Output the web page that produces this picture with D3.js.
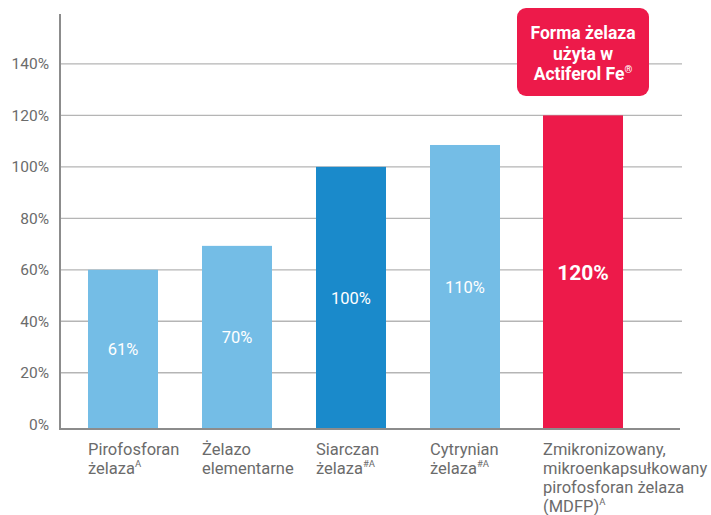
<!DOCTYPE html>
<html><head><meta charset="utf-8">
<script src="https://cdn.jsdelivr.net/npm/d3@7"></script>
<style>body{margin:0;background:#fff}svg{display:block;font-family:Roboto,"DejaVu Sans Condensed",sans-serif}</style>
</head><body><svg id="c" width="711" height="515"></svg>
<script>
const categories = [
  [["Pirofosforan"], ["żelaza", "A"]],
  [["Żelazo"], ["elementarne"]],
  [["Siarczan"], ["żelaza", "#A"]],
  [["Cytrynian"], ["żelaza", "#A"]],
  [["Zmikronizowany,"], ["mikroenkapsułkowany"], ["pirofosforan żelaza"], ["(MDFP)", "A"]]
];
const values = [60, 69.3, 100, 108.5, 120];
const valueLabels = ["61%", "70%", "100%", "110%", "120%"];
const colors = ["#74bde6", "#74bde6", "#1a8acb", "#74bde6", "#ed1a4a"];
const yTicks = [0, 20, 40, 60, 80, 100, 120, 140];
const calloutLines = [["Forma żelaza"], ["użyta w"], ["Actiferol Fe", "®"]];

const svg = d3.select("#c");
const y = d3.scaleLinear().domain([0, 159.4]).range([424.2, 14]);
const x = d3.scaleBand().domain(d3.range(values.length)).range([60, 642]).paddingInner(0.386).paddingOuter(0.2456);
const baseY = 429;

// gridlines
svg.append("g").selectAll("line").data(yTicks.filter(d => d > 0)).join("line")
  .attr("x1", 60).attr("x2", 682).attr("y1", d => y(d)).attr("y2", d => y(d))
  .attr("stroke", "#b5b5b5").attr("stroke-width", 1.3);

// y tick labels
svg.append("g").selectAll("text").data(yTicks).join("text")
  .attr("x", 49).attr("y", d => y(d)).attr("dy", "0.35em").attr("text-anchor", "end")
  .attr("fill", "#6b6b6b").attr("font-size", 15.5).text(d => d + "%");

// bars
const bw = i => i === values.length - 1 ? 80 : x.bandwidth();
const bx = i => i === values.length - 1 ? x(i) - 1 : x(i);
svg.append("g").selectAll("rect").data(values).join("rect")
  .attr("x", (d, i) => bx(i)).attr("width", (d, i) => bw(i))
  .attr("y", d => y(d)).attr("height", d => baseY - y(d))
  .attr("fill", (d, i) => colors[i]);

// value labels
svg.append("g").selectAll("text").data(values).join("text")
  .attr("x", (d, i) => bx(i) + bw(i) / 2)
  .attr("y", d => (y(d) + baseY) / 2).attr("dy", "0.35em").attr("text-anchor", "middle")
  .attr("fill", "#fff")
  .attr("font-size", (d, i) => i === values.length - 1 ? 21 : 16.5)
  .attr("font-weight", (d, i) => i === values.length - 1 ? 700 : 400)
  .text((d, i) => valueLabels[i]);

// axes lines
svg.append("line").attr("x1", 60).attr("x2", 60).attr("y1", 14).attr("y2", baseY + 1)
  .attr("stroke", "#8c8c8c").attr("stroke-width", 2);
svg.append("line").attr("x1", 59).attr("x2", 680).attr("y1", baseY).attr("y2", baseY)
  .attr("stroke", "#8c8c8c").attr("stroke-width", 2);

// x labels
categories.forEach((lines, i) => {
  const t = svg.append("text").attr("x", bx(i)).attr("y", 455).attr("fill", "#6b6b6b").attr("font-size", 16.5);
  lines.forEach((ln, j) => {
    t.append("tspan").attr("x", bx(i)).attr("dy", j === 0 ? 0 : 19).text(ln[0]);
    if (ln[1]) t.append("tspan").attr("font-size", 9.5).attr("dy", -7).text(ln[1]);
    if (ln[1]) t.append("tspan").attr("font-size", 1).attr("dy", 7).text(" ");
  });
});

// callout
const cx = bx(values.length - 1) + bw(values.length - 1) / 2;
svg.append("rect").attr("x", cx - 66).attr("y", 8).attr("width", 132).attr("height", 88).attr("rx", 9)
  .attr("fill", "#ed1a4a");
const ct = svg.append("text").attr("text-anchor", "middle").attr("fill", "#fff")
  .attr("font-weight", 700).attr("font-size", 17.5);
calloutLines.forEach((ln, j) => {
  const tt = ct.append("tspan").attr("x", cx).attr("y", 39 + j * 20.5).text(ln[0]);
  if (ln[1]) tt.append("tspan").attr("font-size", 10).attr("dy", -7).text(ln[1]);
});
</script></body></html>
